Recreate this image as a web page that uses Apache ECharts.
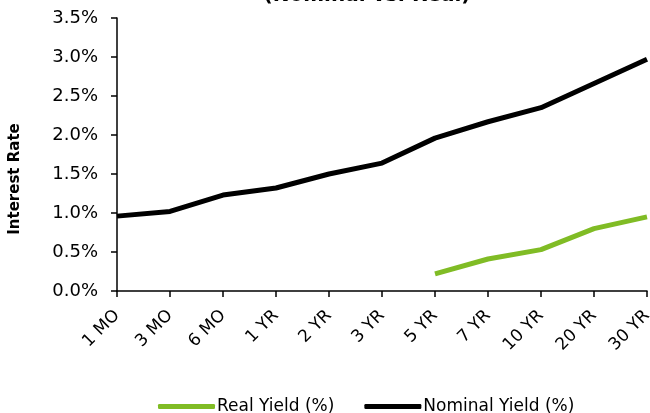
<!DOCTYPE html>
<html>
<head>
<meta charset="utf-8">
<script src="https://cdn.jsdelivr.net/npm/echarts@6/dist/echarts.min.js"></script>
<style>
  html, body { margin: 0; padding: 0; background: #fff; }
  #chart { width: 650px; height: 413px; }
</style>
</head>
<body>
<div id="chart"></div>
<script>
// Treasury maturities along the curve
const maturities = ['1 MO', '3 MO', '6 MO', '1 YR', '2 YR', '3 YR', '5 YR', '7 YR', '10 YR', '20 YR', '30 YR'];
// Real (TIPS) yields, only quoted from 5 years out
const realYield = [null, null, null, null, null, null, 0.22, 0.41, 0.53, 0.80, 0.95];
// Nominal yields, %
const nominalYield = [0.96, 1.02, 1.23, 1.32, 1.50, 1.64, 1.96, 2.17, 2.35, 2.66, 2.97];

const FONT = 'DejaVu Sans';
const chart = echarts.init(document.getElementById('chart'), null, { renderer: 'canvas' });

chart.setOption({
  animation: false,
  backgroundColor: '#ffffff',
  textStyle: { fontFamily: FONT },
  graphic: [
    {
      type: 'text',
      x: 367, y: -14,
      style: {
        text: '(Nominal vs. Real)',
        fontFamily: FONT, fontSize: 20, fontWeight: 'bold',
        fill: '#000', textAlign: 'center', textVerticalAlign: 'top'
      }
    },
    {
      type: 'text',
      x: 15, y: 179,
      rotation: Math.PI / 2,
      style: {
        text: 'Interest Rate',
        fontFamily: FONT, fontSize: 15, fontWeight: 'bold',
        fill: '#000', textAlign: 'center', textVerticalAlign: 'middle'
      }
    }
  ],
  grid: { left: 117, right: 3, top: 18, bottom: 122, containLabel: false, outerBoundsMode: 'none' },
  legend: {
    top: 398,
    left: 158,
    padding: 0,
    itemWidth: 57,
    itemHeight: 5,
    itemGap: 30,
    icon: 'roundRect',
    textStyle: { fontFamily: FONT, fontSize: 17, color: '#000', padding: [0, 0, 0, -3] },
    data: ['Real Yield (%)', 'Nominal Yield (%)']
  },
  xAxis: {
    type: 'category',
    data: maturities,
    boundaryGap: false,
    axisLine: { lineStyle: { color: '#000', width: 1.5 } },
    axisTick: { alignWithLabel: true, length: 6, lineStyle: { color: '#000', width: 1.5 } },
    axisLabel: { rotate: 45, fontSize: 17, color: '#000', margin: 22, fontFamily: FONT, interval: 0 },
    splitLine: { show: false }
  },
  yAxis: {
    type: 'value',
    min: 0, max: 3.5, interval: 0.5,
    axisLine: { show: true, lineStyle: { color: '#000', width: 1.5 } },
    axisTick: { show: true, length: 6, lineStyle: { color: '#000', width: 1.5 } },
    axisLabel: { fontSize: 18, color: '#000', margin: 19, fontFamily: FONT,
      formatter: v => v.toFixed(1) + '%' },
    splitLine: { show: false }
  },
  series: [
    {
      name: 'Real Yield (%)',
      type: 'line',
      data: realYield,
      showSymbol: false,
      symbol: 'none',
      connectNulls: false,
      lineStyle: { color: '#80BC25', width: 5 },
      itemStyle: { color: '#80BC25' },
      z: 3
    },
    {
      name: 'Nominal Yield (%)',
      type: 'line',
      data: nominalYield,
      showSymbol: false,
      symbol: 'none',
      lineStyle: { color: '#000000', width: 5 },
      itemStyle: { color: '#000000' },
      z: 2
    }
  ]
});
</script>
</body>
</html>
